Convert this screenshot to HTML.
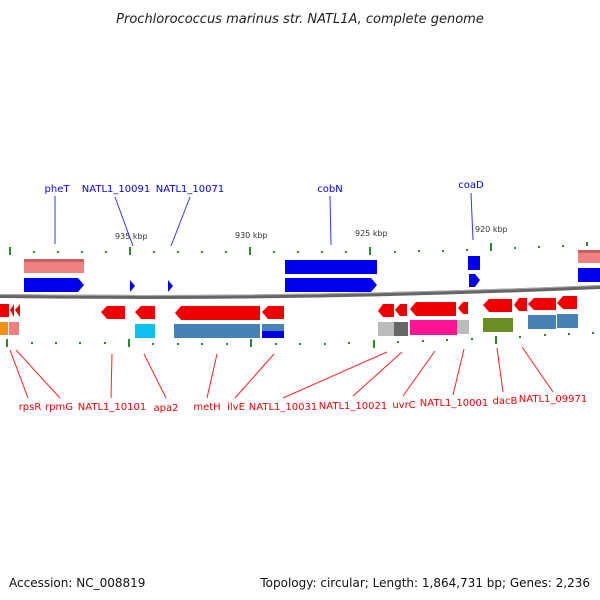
<!DOCTYPE html>
<html><head><meta charset="utf-8"><style>
html,body{margin:0;padding:0;background:#fff;}
svg{display:block;font-family:"DejaVu Sans","Liberation Sans",sans-serif;}
</style></head><body>
<svg width="600" height="600" viewBox="0 0 600 600" xmlns="http://www.w3.org/2000/svg">
<text x="300" y="23" text-anchor="middle" font-size="13" font-style="italic" fill="#222">Prochlorococcus marinus str. NATL1A, complete genome</text>

<!-- backbone -->
<path d="M0,296 Q300,300 600,287" stroke="#666" stroke-width="4" fill="none"/>
<path d="M0,294.5 Q300,298.5 600,285.5" stroke="#aaa" stroke-width="1" fill="none"/>

<!-- top ticks -->
<g fill="#2a8a2a">
<rect x="9" y="247" width="2" height="8"/><rect x="33" y="251" width="2" height="2"/><rect x="57" y="251" width="2" height="2"/><rect x="81" y="251" width="2" height="2"/><rect x="105" y="251" width="2" height="2"/>
<rect x="129" y="247" width="2" height="8"/><rect x="153" y="251" width="2" height="2"/><rect x="177" y="251" width="2" height="2"/><rect x="201" y="251" width="2" height="2"/><rect x="225" y="251" width="2" height="2"/>
<rect x="249" y="247" width="2" height="8"/><rect x="273" y="251" width="2" height="2"/><rect x="297" y="251" width="2" height="2"/><rect x="321" y="251" width="2" height="2"/><rect x="345" y="251" width="2" height="2"/>
<rect x="369" y="247" width="2" height="8"/><rect x="394" y="251" width="2" height="2"/><rect x="418" y="250" width="2" height="2"/><rect x="442" y="250" width="2" height="2"/><rect x="466" y="249" width="2" height="2"/>
<rect x="490" y="243" width="2" height="8"/><rect x="514" y="247" width="2" height="2"/><rect x="538" y="246" width="2" height="2"/><rect x="562" y="245" width="2" height="2"/><rect x="586" y="242" width="2" height="4"/>
</g>
<!-- bottom ticks -->
<g fill="#2a8a2a">
<rect x="6" y="339" width="2" height="8"/><rect x="31" y="342" width="2" height="2"/><rect x="55" y="342" width="2" height="2"/><rect x="79" y="342" width="2" height="2"/><rect x="104" y="342" width="2" height="2"/>
<rect x="128" y="339" width="2" height="8"/><rect x="152" y="343" width="2" height="2"/><rect x="177" y="343" width="2" height="2"/><rect x="201" y="343" width="2" height="2"/><rect x="226" y="343" width="2" height="2"/>
<rect x="250" y="339" width="2" height="8"/><rect x="275" y="343" width="2" height="2"/><rect x="299" y="343" width="2" height="2"/><rect x="324" y="343" width="2" height="2"/><rect x="348" y="342" width="2" height="2"/>
<rect x="373" y="340" width="2" height="8"/><rect x="397" y="341" width="2" height="2"/><rect x="422" y="340" width="2" height="2"/><rect x="446" y="339" width="2" height="2"/><rect x="471" y="338" width="2" height="2"/>
<rect x="495" y="336" width="2" height="8"/><rect x="519" y="336" width="2" height="2"/><rect x="544" y="334" width="2" height="2"/><rect x="568" y="333" width="2" height="2"/><rect x="592" y="332" width="2" height="2"/>
</g>
<g font-size="8" fill="#333">
<text x="115" y="239">935 kbp</text><text x="235" y="238">930 kbp</text><text x="355" y="236">925 kbp</text><text x="475" y="232">920 kbp</text>
</g>

<!-- top features -->
<rect x="24" y="259" width="60" height="14" fill="#ee8080"/><rect x="24" y="259" width="60" height="3" fill="#c86060"/>
<polygon points="24,278 78,278 84,285 78,292 24,292" fill="#0000ee"/>
<polygon points="130,280 135,286 130,292" fill="#0000ee"/>
<polygon points="168,280 173,286 168,292" fill="#0000ee"/>
<rect x="285" y="260" width="92" height="14" fill="#0000ee"/>
<polygon points="285,278 371,278 377,285 371,292 285,292" fill="#0000ee"/>
<rect x="468" y="256" width="12" height="14" fill="#0000ee"/>
<polygon points="469,274 475,274 480,280 475,287 469,287" fill="#0000ee"/>
<rect x="578" y="250" width="22" height="13" fill="#ee8080"/><rect x="578" y="250" width="22" height="3" fill="#c86060"/>
<rect x="578" y="268" width="22" height="14" fill="#0000ee"/>

<!-- bottom features -->
<g fill="#ee0000">
<rect x="0" y="304" width="9" height="13"/>
<polygon points="10,310 14,304 14,317"/><polygon points="15,310 20,304 20,317"/>
<polygon points="101,312 107,306 125,306 125,319 107,319"/>
<polygon points="135,312 141,306 155,306 155,319 141,319"/>
<polygon points="175,313 181,306 260,306 260,320 181,320"/>
<polygon points="262,312 268,306 284,306 284,319 268,319"/>
<polygon points="378,311 383,304 394,304 394,317 383,317"/>
<polygon points="395,310 400,304 407,304 407,316 400,316"/>
<polygon points="410,309 416,302 456,302 456,316 416,316"/>
<polygon points="458,308 463,302 468,302 468,314 463,314"/>
<polygon points="483,305 489,299 512,299 512,312 489,312"/>
<polygon points="514,305 519,298 527,298 527,311 519,311"/>
<polygon points="528,304 534,298 556,298 556,310 534,310"/>
<polygon points="557,303 563,296 577,296 577,309 563,309"/>
</g>
<rect x="0" y="322" width="8" height="13" fill="#f09010"/>
<rect x="9" y="322" width="10" height="13" fill="#ee8080"/>
<rect x="135" y="324" width="20" height="14" fill="#10c0f0"/>
<rect x="174" y="324" width="86" height="14" fill="#4682b4"/>
<rect x="262" y="324" width="22" height="7" fill="#4682b4"/><rect x="262" y="331" width="22" height="7" fill="#0000dd"/>
<rect x="378" y="322" width="16" height="14" fill="#bbbbbb"/>
<rect x="394" y="322" width="14" height="14" fill="#666"/>
<rect x="410" y="320" width="47" height="15" fill="#ff1493"/>
<rect x="457" y="320" width="12" height="14" fill="#bbbbbb"/>
<rect x="483" y="318" width="30" height="14" fill="#6b8e23"/>
<rect x="528" y="315" width="28" height="14" fill="#4682b4"/>
<rect x="557" y="314" width="21" height="14" fill="#4682b4"/>

<!-- blue labels -->
<g stroke="#3333ff" stroke-width="1">
<line x1="55" y1="196" x2="55" y2="244"/>
<line x1="115" y1="197" x2="133" y2="246"/>
<line x1="190" y1="197" x2="171" y2="246"/>
<line x1="330" y1="196" x2="331" y2="245"/>
<line x1="471" y1="193" x2="473" y2="240"/>
</g>
<g font-size="10" fill="#0000ee" text-anchor="middle">
<text x="57" y="192">pheT</text>
<text x="116" y="192">NATL1_10091</text>
<text x="190" y="192">NATL1_10071</text>
<text x="330" y="192">cobN</text>
<text x="471" y="188">coaD</text>
</g>

<!-- red labels -->
<g stroke="#ff2222" stroke-width="1">
<line x1="10" y1="350" x2="28" y2="398"/>
<line x1="16" y1="350" x2="60" y2="398"/>
<line x1="112" y1="354" x2="111" y2="398"/>
<line x1="144" y1="354" x2="166" y2="398"/>
<line x1="217" y1="354" x2="207" y2="398"/>
<line x1="274" y1="354" x2="235" y2="398"/>
<line x1="387" y1="352" x2="283" y2="398"/>
<line x1="402" y1="352" x2="353" y2="396"/>
<line x1="435" y1="351" x2="403" y2="396"/>
<line x1="464" y1="349" x2="453" y2="395"/>
<line x1="497" y1="348" x2="503" y2="392"/>
<line x1="522" y1="347" x2="553" y2="392"/>
</g>
<g font-size="10" fill="#ee0000" text-anchor="middle">
<text x="30" y="410">rpsR</text>
<text x="59" y="410">rpmG</text>
<text x="112" y="410">NATL1_10101</text>
<text x="166" y="411">apa2</text>
<text x="207" y="410">metH</text>
<text x="236" y="410">ilvE</text>
<text x="283" y="410">NATL1_10031</text>
<text x="353" y="409">NATL1_10021</text>
<text x="404" y="408">uvrC</text>
<text x="454" y="406">NATL1_10001</text>
<text x="505" y="404">dacB</text>
<text x="553" y="402">NATL1_09971</text>
</g>

<text x="9" y="587" font-size="12" fill="#111">Accession: NC_008819</text>
<text x="590" y="587" font-size="12" fill="#111" text-anchor="end">Topology: circular; Length: 1,864,731 bp; Genes: 2,236</text>
</svg>
</body></html>
